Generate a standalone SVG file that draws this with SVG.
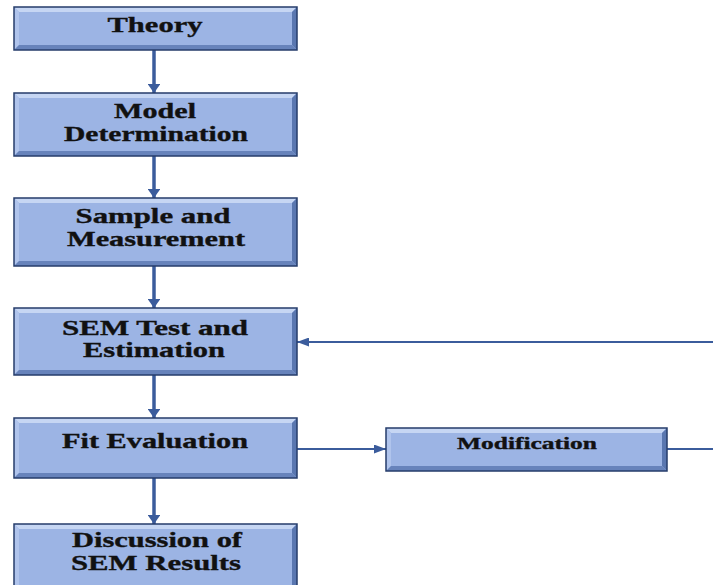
<svg xmlns="http://www.w3.org/2000/svg" width="713" height="585" viewBox="0 0 713 585">
<defs>
<style>
.base{fill:#9cb4e4}
.bt{fill:#c6d6f3}
.bl{fill:#b0c4ec}
.br{fill:#5a77b0}
.bb{fill:#6783bb}
.ol{fill:none;stroke:#263d6b;stroke-width:1.5}
.t{font-family:"Liberation Serif","Times New Roman",serif;font-weight:bold;font-size:21px;fill:#111;stroke:#111;stroke-width:0.35;text-anchor:middle}
.ts{font-size:16px}
.c{stroke:#3b5c9c;fill:none}
.v{stroke-width:3.5}
.h{stroke-width:2}
</style>
<marker id="ah" viewBox="0 0 10 10" refX="10" refY="5" markerWidth="2.6" markerHeight="3.7" orient="auto" markerUnits="strokeWidth" preserveAspectRatio="none">
<path d="M0,0 L10,5 L0,10 z" fill="#3b5c9c"/>
</marker>
<marker id="ahs" viewBox="0 0 10 10" refX="10" refY="5" markerWidth="6" markerHeight="4.5" orient="auto" markerUnits="strokeWidth" preserveAspectRatio="none">
<path d="M0,0 L10,5 L0,10 z" fill="#3b5c9c"/>
</marker>
</defs>
<rect width="713" height="585" fill="#ffffff"/>

<g id="connectors">
<line class="c v" x1="154" y1="50" x2="154" y2="93" marker-end="url(#ah)"/>
<line class="c v" x1="154" y1="156" x2="154" y2="198" marker-end="url(#ah)"/>
<line class="c v" x1="154" y1="266" x2="154" y2="308" marker-end="url(#ah)"/>
<line class="c v" x1="154" y1="375" x2="154" y2="418" marker-end="url(#ah)"/>
<line class="c v" x1="154" y1="478" x2="154" y2="524" marker-end="url(#ah)"/>
<line class="c h" x1="713" y1="342" x2="297" y2="342" marker-end="url(#ahs)"/>
<line class="c h" x1="297" y1="449" x2="386" y2="449" marker-end="url(#ahs)"/>
<line class="c h" x1="667" y1="449" x2="713" y2="449"/>
</g>

<g id="theory">
<rect class="base" x="14" y="7" width="283" height="43"/>
<polygon class="bt" points="14,7 297,7 292,12 19,12"/>
<polygon class="bl" points="14,7 19,12 19,45 14,50"/>
<polygon class="br" points="297,7 297,50 292,45 292,12"/>
<polygon class="bb" points="14,50 19,45 292,45 297,50"/>
<rect class="ol" x="14" y="7" width="283" height="43"/>
<text class="t" x="155" y="32" textLength="95" lengthAdjust="spacingAndGlyphs">Theory</text>
</g>

<g id="model">
<rect class="base" x="14" y="93" width="283" height="63"/>
<polygon class="bt" points="14,93 297,93 292,98 19,98"/>
<polygon class="bl" points="14,93 19,98 19,151 14,156"/>
<polygon class="br" points="297,93 297,156 292,151 292,98"/>
<polygon class="bb" points="14,156 19,151 292,151 297,156"/>
<rect class="ol" x="14" y="93" width="283" height="63"/>
<text class="t" x="155" y="118" textLength="82" lengthAdjust="spacingAndGlyphs">Model</text>
<text class="t" x="156" y="141" textLength="184" lengthAdjust="spacingAndGlyphs">Determination</text>
</g>

<g id="sample">
<rect class="base" x="14" y="198" width="283" height="68"/>
<polygon class="bt" points="14,198 297,198 292,203 19,203"/>
<polygon class="bl" points="14,198 19,203 19,261 14,266"/>
<polygon class="br" points="297,198 297,266 292,261 292,203"/>
<polygon class="bb" points="14,266 19,261 292,261 297,266"/>
<rect class="ol" x="14" y="198" width="283" height="68"/>
<text class="t" x="153" y="223" textLength="155" lengthAdjust="spacingAndGlyphs">Sample and</text>
<text class="t" x="156" y="246" textLength="178" lengthAdjust="spacingAndGlyphs">Measurement</text>
</g>

<g id="sem">
<rect class="base" x="14" y="308" width="283" height="67"/>
<polygon class="bt" points="14,308 297,308 292,313 19,313"/>
<polygon class="bl" points="14,308 19,313 19,370 14,375"/>
<polygon class="br" points="297,308 297,375 292,370 292,313"/>
<polygon class="bb" points="14,375 19,370 292,370 297,375"/>
<rect class="ol" x="14" y="308" width="283" height="67"/>
<text class="t" x="155" y="335" textLength="186" lengthAdjust="spacingAndGlyphs">SEM Test and</text>
<text class="t" x="154" y="357" textLength="142" lengthAdjust="spacingAndGlyphs">Estimation</text>
</g>

<g id="fit">
<rect class="base" x="14" y="418" width="283" height="60"/>
<polygon class="bt" points="14,418 297,418 292,423 19,423"/>
<polygon class="bl" points="14,418 19,423 19,473 14,478"/>
<polygon class="br" points="297,418 297,478 292,473 292,423"/>
<polygon class="bb" points="14,478 19,473 292,473 297,478"/>
<rect class="ol" x="14" y="418" width="283" height="60"/>
<text class="t" x="155" y="448" textLength="186" lengthAdjust="spacingAndGlyphs">Fit Evaluation</text>
</g>

<g id="modification">
<rect class="base" x="386" y="428" width="281" height="43"/>
<polygon class="bt" points="386,428 667,428 662,433 391,433"/>
<polygon class="bl" points="386,428 391,433 391,466 386,471"/>
<polygon class="br" points="667,428 667,471 662,466 662,433"/>
<polygon class="bb" points="386,471 391,466 662,466 667,471"/>
<rect class="ol" x="386" y="428" width="281" height="43"/>
<text class="t ts" x="527" y="449" textLength="140" lengthAdjust="spacingAndGlyphs">Modification</text>
</g>

<g id="discussion">
<rect class="base" x="14" y="524" width="283" height="70"/>
<polygon class="bt" points="14,524 297,524 292,529 19,529"/>
<polygon class="bl" points="14,524 19,529 19,594 14,594"/>
<polygon class="br" points="297,524 297,594 292,594 292,529"/>
<rect class="ol" x="14" y="524" width="283" height="70"/>
<text class="t" x="157" y="547" textLength="170" lengthAdjust="spacingAndGlyphs">Discussion of</text>
<text class="t" x="156" y="570" textLength="170" lengthAdjust="spacingAndGlyphs">SEM Results</text>
</g>
</svg>
